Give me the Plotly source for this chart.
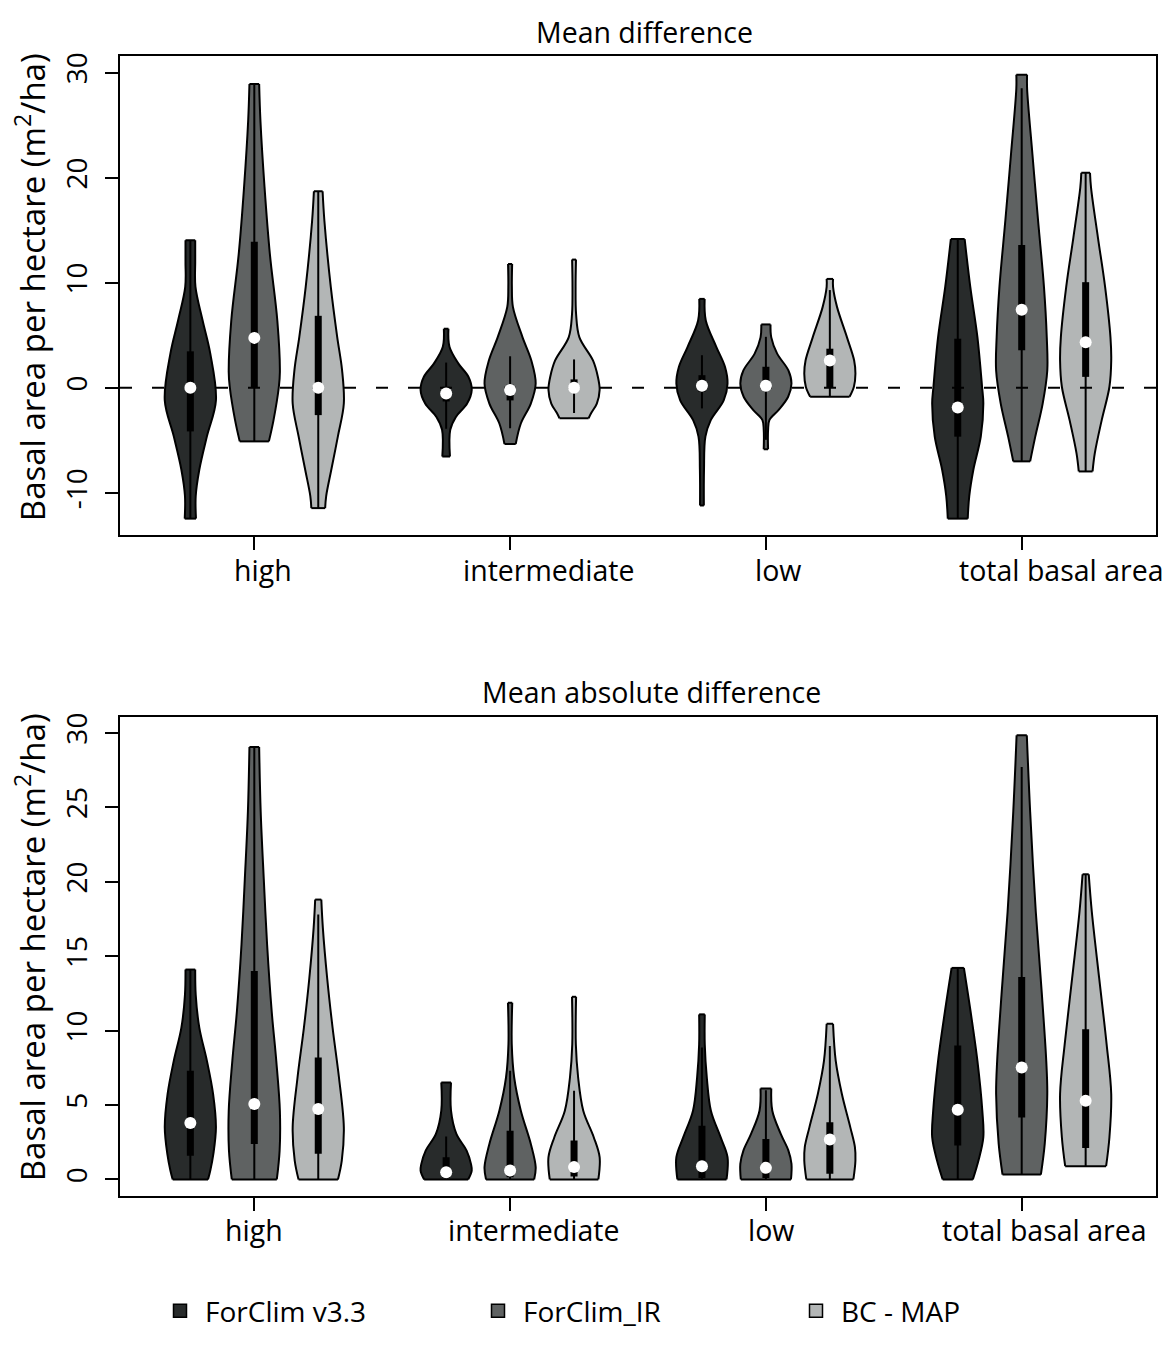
import plotly.graph_objects as go

# ---------------------------------------------------------------------------
# Categories and series
# ---------------------------------------------------------------------------
GROUPS = ["high", "intermediate", "low", "total basal area"]
MODELS = ["ForClim v3.3", "ForClim_IR", "BC - MAP"]
MODEL_COLORS = ["#282b2b", "#5f6262", "#b3b6b6"]

# violin slots on the x scale (three models per group, one empty slot between groups)
POSITIONS = [1, 2, 3, 5, 6, 7, 9, 10, 11, 13, 14, 15]
GROUP_TICKS = [2, 6, 10, 14]

# ---- Mean difference (m2/ha) ------------------------------------------------
# density outline per violin: levels (low -> high) and relative half-widths
MD_LEVELS = [
    [-12.45, -10.3, -7.8, -4.6, -1.2, 3.25, 6.4, 9.6, 12.0, 14.05],
    [-5.1, -3.1, 0.1, 1.5, 6.4, 12.7, 19.1, 25.4, 28.9],
    [-11.45, -10.3, -7.8, -4.6, -1.5, 1.7, 4.85, 9.6, 15.9, 18.7],
    [-6.54, -4.0, -2.77, -1.5, -0.2, 1.05, 2.3, 3.9, 5.62],
    [-5.35, -3.4, -1.5, 0.4, 2.6, 4.85, 7.7, 9.6, 11.78],
    [-2.9, -2.4, -1.5, -0.2, 1.05, 2.6, 4.8, 7.0, 9.6, 12.2],
    [-11.2, -7.8, -4.65, -3.1, -1.2, 0.4, 2.0, 3.9, 6.4, 8.46],
    [-5.85, -4.0, -3.05, -2.1, -0.85, 0.4, 1.65, 3.25, 4.8, 6.03],
    [-0.86, 0.1, 1.35, 2.6, 4.8, 7.7, 9.6, 10.36],
    [-12.45, -10.3, -7.8, -4.65, -1.5, 0.1, 4.8, 9.6, 14.15],
    [-7.0, -4.65, -1.5, 1.65, 4.8, 9.6, 15.9, 22.2, 28.5, 29.8],
    [-7.96, -6.2, -3.05, 0.1, 2.6, 4.8, 9.6, 14.3, 19.05, 20.47],
]
MD_WIDTHS = [
    [0.22, 0.21, 0.35, 0.65, 1.0, 0.78, 0.48, 0.2, 0.19, 0.19],
    [0.57, 0.75, 0.96, 1.0, 0.9, 0.61, 0.4, 0.24, 0.19],
    [0.27, 0.31, 0.51, 0.77, 1.0, 0.93, 0.74, 0.49, 0.24, 0.17],
    [0.15, 0.16, 0.38, 0.82, 1.0, 0.87, 0.48, 0.13, 0.09],
    [0.22, 0.42, 0.81, 1.0, 0.83, 0.48, 0.11, 0.07, 0.08],
    [0.57, 0.67, 0.89, 1.0, 0.93, 0.74, 0.21, 0.08, 0.06, 0.076],
    [0.075, 0.08, 0.135, 0.34, 0.85, 1.0, 0.9, 0.56, 0.15, 0.105],
    [0.085, 0.085, 0.14, 0.5, 0.87, 1.0, 0.88, 0.44, 0.21, 0.18],
    [0.77, 0.94, 1.0, 0.95, 0.67, 0.28, 0.125, 0.125],
    [0.39, 0.45, 0.61, 0.9, 1.0, 0.95, 0.77, 0.49, 0.27],
    [0.33, 0.53, 0.82, 1.0, 0.98, 0.87, 0.64, 0.42, 0.21, 0.21],
    [0.27, 0.36, 0.63, 0.93, 1.0, 0.97, 0.76, 0.48, 0.21, 0.17],
]
MD_Q1 = [-4.15, 0.0, -2.6, -1.3, -1.2, -0.1, -0.4, -0.2, 0.0, -4.65, 3.57, 1.04]
MD_MEDIAN = [0.0, 4.75, 0.0, -0.55, -0.2, 0.0, 0.2, 0.2, 2.6, -1.87, 7.42, 4.33]
MD_Q3 = [3.47, 13.9, 6.85, 0.1, 0.3, 0.8, 1.2, 2.0, 3.72, 4.67, 13.6, 10.05]
MD_WHISK_LO = [-12.45, -5.1, -11.45, -3.9, -3.85, -2.4, -1.96, -4.95, -0.86, -12.45, -7.0, -7.96]
MD_WHISK_HI = [14.05, 28.9, 18.7, 2.4, 3.0, 2.7, 3.1, 4.85, 9.3, 14.15, 28.5, 20.47]

# ---- Mean absolute difference (m2/ha) --------------------------------------
MAD_LEVELS = [
    [0.0, 0.6, 1.72, 3.5, 5.74, 7.95, 10.2, 12.4, 14.1],
    [0.0, 1.94, 4.6, 7.95, 11.3, 15.8, 20.2, 24.7, 29.05],
    [0.0, 1.27, 3.5, 6.85, 10.2, 13.5, 16.9, 18.8],
    [0.0, 0.6, 1.05, 1.94, 3.06, 4.62, 6.51],
    [0.0, 0.83, 2.39, 4.62, 6.85, 9.08, 11.87],
    [0.0, 1.5, 2.84, 4.62, 6.85, 9.08, 12.27],
    [0.0, 1.5, 2.84, 4.62, 6.85, 9.08, 11.09],
    [0.0, 1.05, 1.94, 3.06, 4.62, 6.11],
    [0.0, 1.27, 2.17, 3.5, 5.74, 7.96, 10.46],
    [0.0, 1.27, 2.84, 4.62, 7.95, 11.3, 14.21],
    [0.33, 2.39, 5.74, 7.95, 12.4, 18.0, 24.7, 29.83],
    [0.89, 2.84, 5.74, 9.08, 13.5, 18.0, 20.5],
]
MAD_WIDTHS = [
    [0.69, 0.78, 0.9, 1.0, 0.89, 0.65, 0.35, 0.21, 0.19],
    [0.88, 0.99, 1.0, 0.86, 0.68, 0.5, 0.37, 0.25, 0.19],
    [0.77, 0.92, 1.0, 0.81, 0.56, 0.35, 0.18, 0.12],
    [0.86, 1.0, 0.97, 0.8, 0.4, 0.19, 0.19],
    [0.94, 1.0, 0.81, 0.42, 0.16, 0.065, 0.084],
    [0.95, 1.0, 0.77, 0.36, 0.16, 0.07, 0.08],
    [0.96, 1.0, 0.73, 0.35, 0.19, 0.11, 0.11],
    [0.98, 1.0, 0.88, 0.58, 0.25, 0.21],
    [0.92, 1.0, 0.98, 0.8, 0.47, 0.23, 0.125],
    [0.59, 0.81, 1.0, 0.96, 0.77, 0.5, 0.24],
    [0.75, 0.9, 1.0, 0.96, 0.79, 0.55, 0.33, 0.2],
    [0.8, 0.93, 1.0, 0.82, 0.53, 0.24, 0.12],
]
MAD_Q1 = [1.6, 2.39, 1.72, 0.1, 0.15, 0.2, 0.1, 0.1, 0.38, 2.28, 4.17, 2.12]
MAD_MEDIAN = [3.79, 5.07, 4.73, 0.49, 0.6, 0.83, 0.89, 0.78, 2.68, 4.69, 7.52, 5.29]
MAD_Q3 = [7.3, 14.0, 8.19, 1.5, 3.28, 2.61, 3.61, 2.72, 3.84, 9.0, 13.6, 10.09]
MAD_WHISK_LO = [0.0, 0.0, 0.0, 0.0, 0.0, 0.0, 0.0, 0.0, 0.0, 0.0, 0.33, 0.89]
MAD_WHISK_HI = [14.1, 29.05, 17.8, 2.88, 7.3, 5.96, 8.86, 6.0, 8.97, 14.21, 27.7, 20.5]

MD_TICKS = [-10, 0, 10, 20, 30]
MAD_TICKS = [0, 5, 10, 15, 20, 25, 30]

# ---------------------------------------------------------------------------
# Page geometry (pixels) and styling
# ---------------------------------------------------------------------------
W, H = 1163, 1351
FONT = "Open Sans"
HALF_WIDTH = 0.4          # widest half-violin, in x units
X_RANGE = [-0.1, 16.1]


def fx(px):
    return px / W


def fy(py):
    return 1 - py / H


PANELS = [
    dict(xa="x", ya="y", top=52.3, bottom=532.7, yrange=[-14.02, 31.56],
         ticks=MD_TICKS, title="Mean difference", title_x=644, title_y=28,
         label_x=[2.14, 6.61, 10.19, 14.63], label_y=568, ytitle_y=284,
         data=(MD_LEVELS, MD_WIDTHS, MD_Q1, MD_MEDIAN, MD_Q3, MD_WHISK_LO, MD_WHISK_HI),
         zero_line=True),
    dict(xa="x2", ya="y2", top=715.0, bottom=1195.7, yrange=[-1.12, 31.07],
         ticks=MAD_TICKS, title="Mean absolute difference", title_x=651, title_y=690,
         label_x=[2.0, 6.37, 10.08, 14.36], label_y=1230, ytitle_y=946,
         data=(MAD_LEVELS, MAD_WIDTHS, MAD_Q1, MAD_MEDIAN, MAD_Q3, MAD_WHISK_LO, MAD_WHISK_HI),
         zero_line=False),
]

fig = go.Figure()
annotations = []

for p in PANELS:
    levels, widths, q1, med, q3, wlo, whi = p["data"]
    xa, ya = p["xa"], p["ya"]

    # violin bodies: left edge, then right edge filled back to the left edge
    cap_x, cap_y = [], []
    for i, pos in enumerate(POSITIONS):
        col = MODEL_COLORS[i % 3]
        lv, wd = levels[i], widths[i]
        left = [pos - HALF_WIDTH * w for w in wd]
        right = [pos + HALF_WIDTH * w for w in wd]
        edge = dict(color="black", width=2, shape="spline", smoothing=1.0)
        fig.add_trace(go.Scatter(x=left, y=lv, mode="lines", line=edge,
                                 xaxis=xa, yaxis=ya, showlegend=False, hoverinfo="skip"))
        fig.add_trace(go.Scatter(x=right, y=lv, mode="lines", line=edge,
                                 fill="tonextx", fillcolor=col,
                                 xaxis=xa, yaxis=ya, showlegend=False, hoverinfo="skip"))
        for k in (0, -1):
            cap_x += [left[k], right[k], None]
            cap_y += [lv[k], lv[k], None]

    fig.add_trace(go.Scatter(x=cap_x, y=cap_y, mode="lines",
                             line=dict(color="black", width=2),
                             xaxis=xa, yaxis=ya, showlegend=False, hoverinfo="skip"))

    if p["zero_line"]:
        fig.add_trace(go.Scatter(x=X_RANGE, y=[0, 0], mode="lines",
                                 line=dict(color="black", width=2, dash="12px,20px"),
                                 xaxis=xa, yaxis=ya, showlegend=False, hoverinfo="skip"))

    # whiskers (thin) and inter-quartile bars (thick)
    wx, wy, bx, by = [], [], [], []
    for i, pos in enumerate(POSITIONS):
        wx += [pos, pos, None]
        wy += [wlo[i], whi[i], None]
        bx += [pos, pos, None]
        by += [q1[i], q3[i], None]
    fig.add_trace(go.Scatter(x=wx, y=wy, mode="lines", line=dict(color="black", width=2),
                             xaxis=xa, yaxis=ya, showlegend=False, hoverinfo="skip"))
    fig.add_trace(go.Scatter(x=bx, y=by, mode="lines", line=dict(color="black", width=7),
                             xaxis=xa, yaxis=ya, showlegend=False, hoverinfo="skip"))
    # medians
    fig.add_trace(go.Scatter(x=POSITIONS, y=med, mode="markers",
                             marker=dict(color="white", size=12, line=dict(width=0)),
                             xaxis=xa, yaxis=ya, showlegend=False, hoverinfo="skip"))

    # panel title, category labels, y-axis title
    annotations.append(dict(text=p["title"], xref="paper", yref="paper",
                            x=fx(p["title_x"]), y=fy(p["title_y"]),
                            xanchor="center", yanchor="middle", showarrow=False,
                            font=dict(family=FONT, size=28.5, color="black")))
    for g, lx in zip(GROUPS, p["label_x"]):
        annotations.append(dict(text=g, xref=xa, yref="paper", x=lx, y=fy(p["label_y"]),
                                xanchor="center", yanchor="middle", showarrow=False,
                                font=dict(family=FONT, size=28.5, color="black")))
    annotations.append(dict(text="Basal area per hectare (m<sup>2</sup>/ha)",
                            xref="paper", yref="paper", x=fx(30), y=fy(p["ytitle_y"]),
                            xanchor="center", yanchor="middle", textangle=-90,
                            showarrow=False, font=dict(family=FONT, size=33, color="black")))

# legend entries
for name, col in zip(MODELS, MODEL_COLORS):
    fig.add_trace(go.Scatter(x=[None], y=[None], mode="markers", name=name,
                             marker=dict(symbol="square", size=13, color=col,
                                         line=dict(color="black", width=1.5)),
                             xaxis="x2", yaxis="y2", hoverinfo="skip"))

axis_common = dict(showline=True, linecolor="black", linewidth=2, mirror=True,
                   showgrid=False, zeroline=False, ticks="outside", ticklen=13,
                   tickwidth=2, tickcolor="black")

layout = dict(
    width=W, height=H,
    margin=dict(l=0, r=0, t=0, b=0),
    paper_bgcolor="white", plot_bgcolor="white",
    font=dict(family=FONT, size=26, color="black"),
    annotations=annotations,
    showlegend=True,
    legend=dict(orientation="h", traceorder="normal", x=fx(155), y=fy(1311),
                xanchor="left", yanchor="middle", itemwidth=40,
                entrywidth=263, entrywidthmode="pixels", bgcolor="rgba(0,0,0,0)",
                font=dict(family=FONT, size=28, color="black"), itemclick=False),
)
for p, xn, yn in [(PANELS[0], "xaxis", "yaxis"), (PANELS[1], "xaxis2", "yaxis2")]:
    layout[xn] = dict(axis_common, domain=[fx(120), fx(1156)], range=X_RANGE,
                      tickvals=GROUP_TICKS, showticklabels=False,
                      anchor=p["ya"])
    layout[yn] = dict(axis_common, domain=[fy(p["bottom"]), fy(p["top"])],
                      range=p["yrange"], tickvals=p["ticks"],
                      ticktext=[str(t) for t in p["ticks"]], tickangle=-90,
                      ticklabelstandoff=7,
                      tickfont=dict(family=FONT, size=28, color="black"),
                      anchor=p["xa"])

fig.update_layout(**layout)
fig.write_html("out.html")
